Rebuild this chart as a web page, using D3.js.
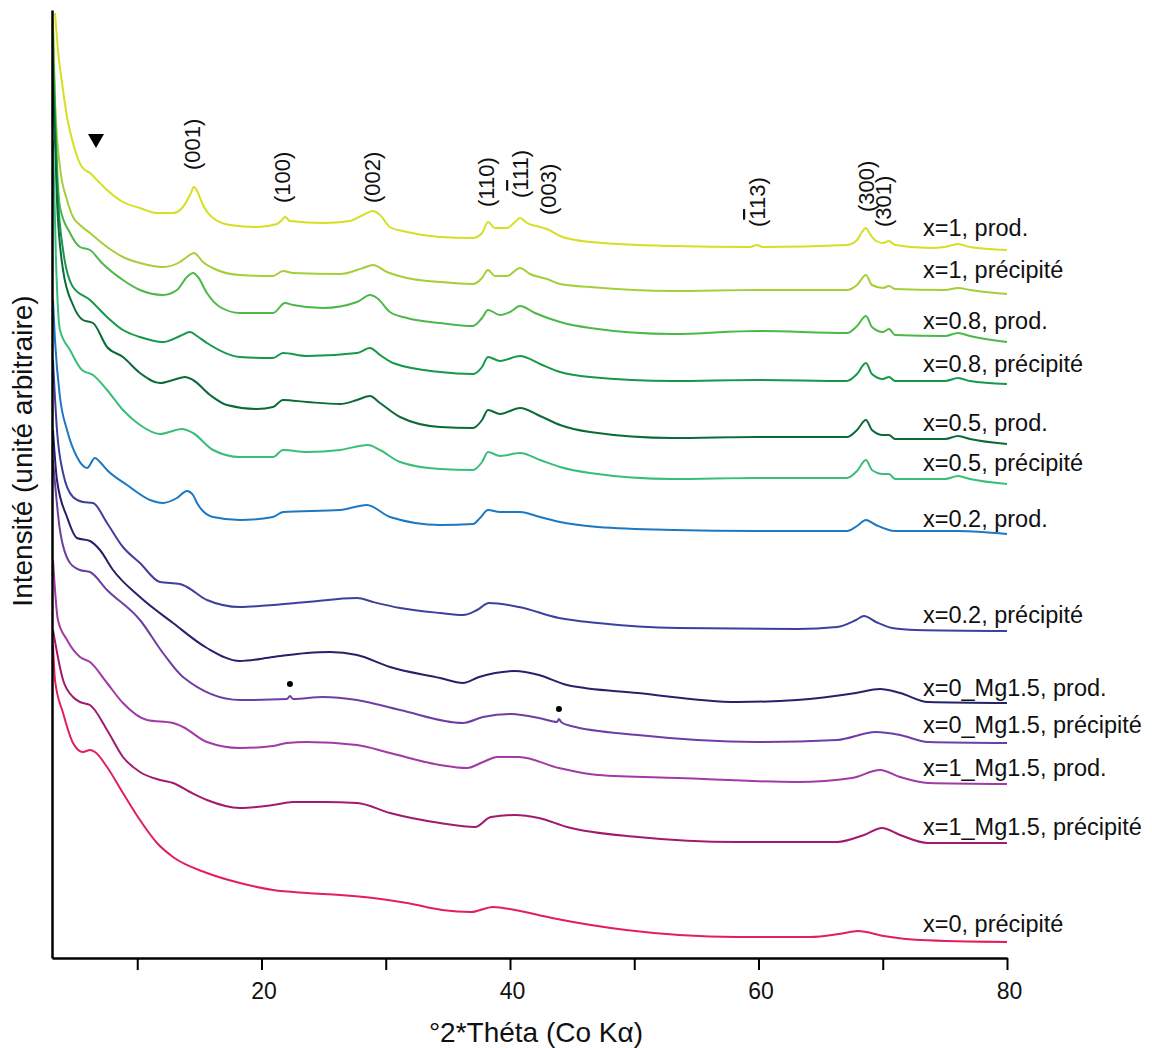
<!DOCTYPE html>
<html><head><meta charset="utf-8">
<script src="https://cdn.jsdelivr.net/npm/d3@7"></script>
<style>body{margin:0;background:#fff}svg{display:block;font-family:"Liberation Sans",Arial,sans-serif}</style>
</head><body><svg id="c" width="1152" height="1048"></svg>
<script>
// ---------------- DATA ----------------
const angleDomain = [3.14, 80];
const intensityDomain = [0, 948];

const x1_prod = [[3.38,945],[3.62,908],[3.95,875],[4.35,841],[4.83,815],[5.55,791],[6.20,785],[6.76,778],[7.57,768],[8.85,756],[10.22,750],[11.59,745],[12.88,745],[13.68,751],[14.25,763],[14.57,771],[14.89,765],[15.29,753],[16.10,740],[17.47,733],[19.64,731],[21.25,734],[21.65,738],[21.89,741],[22.29,737],[24.95,735],[27.12,737],[28.17,743],[28.97,747],[29.54,743],[30.34,731],[31.71,726],[34.37,721],[37.02,720],[37.75,725],[38.23,736],[38.79,730],[39.76,730],[40.40,736],[40.81,740],[41.37,735],[42.42,731],[42.98,729],[44.03,722],[46.44,716],[53.12,712],[59.32,711],[59.88,713],[60.36,711],[67.12,713],[67.93,718],[68.33,726],[68.65,730],[68.97,724],[69.46,717],[70.02,715],[70.50,717],[70.99,713],[73.80,710],[75.01,711],[76.06,714],[77.02,711],[80.00,708]];

const x1_prec = [[3.22,938],[3.38,858],[3.78,791],[4.35,758],[4.83,741],[5.39,733],[6.20,725],[7.57,711],[8.85,701],[10.22,695],[12.07,691],[13.44,696],[14.00,701],[14.57,705],[15.29,696],[16.42,688],[18.27,683],[20.93,682],[21.73,687],[22.54,685],[26.32,684],[28.17,690],[28.97,693],[30.10,686],[31.71,680],[34.37,676],[37.02,674],[37.75,680],[38.23,688],[38.79,682],[39.76,682],[40.81,690],[41.61,684],[42.98,679],[44.03,674],[46.44,671],[53.12,667],[59.88,668],[67.12,668],[67.93,673],[68.65,683],[69.13,673],[70.02,670],[70.50,672],[70.99,669],[75.01,668],[76.06,670],[77.02,668],[80.00,664]];

const x08_prod = [[3.22,923],[3.46,818],[3.78,751],[4.59,725],[5.39,711],[6.20,708],[7.16,695],[8.85,678],[10.22,668],[12.07,663],[13.20,668],[14.00,681],[14.49,685],[14.89,681],[15.61,665],[16.66,651],[18.27,645],[20.93,645],[21.89,655],[22.54,653],[24.95,650],[27.69,656],[28.73,663],[29.30,660],[30.34,646],[31.71,640],[34.37,635],[37.02,632],[37.75,640],[38.23,648],[39.20,643],[40.00,646],[40.81,652],[42.01,645],[44.03,636],[46.44,630],[53.12,624],[59.88,627],[67.12,625],[67.93,632],[68.65,642],[69.13,631],[70.02,626],[70.50,629],[70.99,623],[75.01,622],[76.06,625],[77.02,622],[80.00,616]];

const x08_prec = [[3.22,898],[3.54,778],[4.03,708],[4.83,671],[6.20,658],[7.57,641],[8.85,628],[10.22,621],[12.07,616],[13.44,622],[14.25,626],[14.81,622],[15.61,615],[18.27,601],[20.93,600],[21.73,605],[23.66,602],[27.69,605],[28.73,610],[29.54,603],[30.58,595],[34.37,586],[37.02,584],[37.75,591],[38.23,601],[39.20,597],[40.81,602],[42.42,594],[44.03,586],[46.44,581],[53.12,577],[59.88,578],[67.12,577],[67.93,584],[68.65,595],[69.13,584],[70.02,579],[70.50,581],[70.99,577],[75.01,577],[76.06,580],[77.02,577],[80.00,574]];

const x05_prod = [[3.22,878],[3.54,758],[4.03,688],[4.83,653],[5.63,638],[6.44,635],[7.57,611],[8.85,601],[10.22,585],[11.83,575],[12.88,578],[13.84,581],[14.49,578],[15.86,563],[17.22,553],[19.64,549],[20.93,551],[21.73,558],[23.66,556],[26.32,554],[27.69,558],[28.73,562],[29.54,555],[31.15,541],[34.37,531],[37.02,530],[37.75,538],[38.23,548],[39.20,544],[40.81,550],[42.42,542],[44.03,533],[46.44,526],[53.12,520],[59.88,521],[67.12,521],[67.93,528],[68.65,538],[69.13,528],[70.02,523],[70.50,523],[70.99,519],[75.01,519],[76.06,522],[77.02,519],[80.00,514]];

const x05_prec = [[3.22,818],[3.46,698],[3.78,628],[4.59,608],[5.55,588],[6.44,583],[7.57,568],[8.85,548],[10.22,533],[11.83,524],[13.60,529],[14.49,525],[16.10,508],[18.27,501],[20.93,501],[21.73,508],[23.66,506],[26.32,508],[28.57,513],[29.54,508],[31.15,496],[34.37,489],[37.02,488],[37.75,496],[38.23,506],[39.20,502],[40.81,505],[42.42,498],[44.03,491],[46.44,485],[53.12,479],[59.88,480],[67.12,480],[67.93,487],[68.65,498],[69.13,488],[70.02,484],[70.50,484],[70.99,479],[75.01,479],[76.06,482],[77.02,479],[80.00,474]];

const x02_prod = [[3.22,658],[3.38,618],[3.78,561],[4.35,528],[5.15,501],[5.96,490],[6.60,500],[7.00,496],[7.57,488],[9.18,473],[11.03,458],[12.07,455],[13.20,460],[14.00,467],[14.49,463],[14.81,455],[16.10,441],[18.27,438],[20.93,441],[21.73,446],[26.32,448],[28.49,453],[30.34,441],[34.37,433],[37.02,434],[37.59,440],[38.23,448],[39.20,446],[40.81,446],[42.42,441],[44.03,436],[47.08,431],[53.12,428],[59.88,427],[67.12,427],[67.93,432],[68.65,438],[69.46,433],[70.99,427],[76.06,427],[80.00,424]];

const x02_prec = [[3.22,598],[3.54,528],[4.03,485],[4.83,461],[5.63,456],[6.44,455],[7.57,435],[8.85,411],[10.22,395],[11.83,376],[13.44,374],[14.00,371],[15.61,358],[18.27,351],[20.93,353],[23.66,356],[27.69,360],[28.97,356],[31.15,350],[34.37,345],[36.22,343],[37.35,348],[38.31,355],[40.72,351],[43.94,340],[47.08,335],[53.52,330],[63.10,329],[66.32,331],[67.85,338],[68.49,342],[69.46,336],[70.75,330],[72.68,328],[80.00,327]];

const x0Mg_prod = [[3.22,528],[3.54,478],[4.35,441],[5.15,420],[6.20,417],[7.00,408],[8.05,388],[10.22,361],[12.88,335],[15.61,310],[18.27,297],[20.93,301],[23.66,305],[25.51,306],[27.69,303],[30.34,291],[34.37,280],[36.22,275],[37.51,281],[40.40,287],[42.33,283],[44.59,273],[50.30,265],[58.27,256],[63.10,258],[67.85,265],[69.78,269],[71.39,265],[73.64,256],[80.00,255]];

const x0Mg_prec = [[3.22,498],[3.78,428],[4.59,395],[5.39,388],[6.20,386],[7.57,368],[10.22,338],[12.07,305],[13.68,281],[18.27,258],[22.05,259],[22.29,262],[22.54,259],[24.95,261],[27.69,258],[31.15,248],[36.22,235],[37.83,241],[40.08,244],[42.66,239],[43.78,236],[43.94,239],[44.11,236],[44.91,232],[50.30,223],[59.88,216],[66.32,218],[69.46,226],[71.39,223],[73.64,216],[80.00,215]];

const x1Mg_prod = [[3.22,398],[3.62,338],[4.35,318],[5.39,301],[6.20,296],[7.57,275],[8.85,255],[10.79,238],[12.88,235],[13.68,231],[15.61,216],[18.27,210],[20.93,212],[22.05,215],[23.66,216],[27.69,213],[30.34,205],[34.37,193],[36.54,190],[37.83,196],[38.99,201],[40.72,201],[43.94,190],[47.08,183],[53.52,180],[63.10,176],[67.53,180],[69.78,188],[71.39,181],[73.64,175],[80.00,174]];

const x1Mg_prec = [[3.22,328],[4.03,278],[4.83,261],[5.39,256],[6.20,253],[7.57,228],[8.85,201],[10.22,186],[11.83,178],[12.88,175],[14.25,166],[15.61,158],[18.27,150],[20.93,153],[22.54,156],[24.95,156],[27.69,155],[30.34,145],[34.37,135],[37.19,131],[38.47,141],[40.40,143],[42.33,140],[44.59,131],[50.30,121],[58.27,116],[66.32,116],[68.49,123],[69.94,130],[71.39,123],[73.64,115],[80.00,115]];

const x0_prec = [[3.22,313],[3.38,278],[4.03,245],[4.83,215],[5.63,206],[6.20,208],[6.60,206],[7.57,191],[8.85,165],[10.22,138],[11.59,115],[12.88,101],[15.61,85],[18.27,75],[20.93,68],[23.66,65],[26.32,63],[28.97,60],[31.71,55],[34.53,48],[36.86,46],[38.63,51],[40.40,48],[43.38,40],[49.34,28],[58.19,21],[64.15,21],[66.48,24],[68.01,27],[70.10,22],[73.00,18],[80.00,16]];

const seriesLabels = ["x=1, prod.","x=1, précipité","x=0.8, prod.","x=0.8, précipité","x=0.5, prod.","x=0.5, précipité","x=0.2, prod.","x=0.2, précipité","x=0_Mg1.5, prod.","x=0_Mg1.5, précipité","x=1_Mg1.5, prod.","x=1_Mg1.5, précipité","x=0, précipité"];
const seriesData = [x1_prod,x1_prec,x08_prod,x08_prec,x05_prod,x05_prec,x02_prod,x02_prec,x0Mg_prod,x0Mg_prec,x1Mg_prod,x1Mg_prec,x0_prec];

const hklLabels = ["(001)","(100)","(002)","(110)","(-111)","(003)","(-113)","(300)","(301)"];
const hklAngles = [14.57,21.89,28.97,38.23,40.81,42.98,59.88,68.65,70.50];
const impurityDots = [[22.29,274],[43.94,249]];
const shoulderAngle = 6.68;

const xTickValues = [10,20,30,40,50,60,70,80];
const xTickLabels = ["","20","","40","","60","","80"];
const xTitle = "°2*Théta (Co Kα)";
const yTitle = "Intensité (unité arbitraire)";

// ---------------- LAYOUT / STYLE ----------------
const L = 52, R = 1007, T = 10, B = 958;
const colors = ["#d6df22","#a6ce39","#4cb848","#16984a","#0b6b38","#37bf78","#1c78c2","#3e3f9e","#25226a","#6d3fa3","#a03aa5","#a21a6e","#e21f5c"];
const labelShift = [-14,-16,-13,-12,-13,-13,-7,-8,-7,-10,-8,-8,-10];
const hklDx = [6,5.5,7.5,6.5,8,9,8,8,2];
const hklBottom = [170,203,203,207,198,215,227,212,227];

const svg = d3.select("#c");
const x = d3.scaleLinear().domain(angleDomain).range([L, R]);
const y = d3.scaleLinear().domain(intensityDomain).range([B, T]);

const line = d3.line().x(d => x(d[0])).y(d => y(d[1])).curve(d3.curveMonotoneX);

svg.append("g").selectAll("path").data(seriesData).join("path")
  .attr("d", line).attr("fill", "none")
  .attr("stroke", (d, i) => colors[i]).attr("stroke-width", 2)
  .attr("stroke-linejoin", "round");

// series labels
svg.append("g").selectAll("text").data(seriesData).join("text")
  .attr("x", 923)
  .attr("y", (d, i) => y(d[d.length - 1][1]) + labelShift[i])
  .attr("font-size", 23.5).attr("fill", "#111")
  .text((d, i) => seriesLabels[i]);

// hkl labels
const hg = svg.append("g");
hklLabels.forEach((lab, i) => {
  const bx = x(hklAngles[i]) + hklDx[i], by = hklBottom[i];
  const t = hg.append("text").attr("transform", `translate(${bx},${by}) rotate(-90)`)
    .attr("font-size", 22).attr("fill", "#111");
  const parts = lab.match(/-\d|[^-]/g);
  let buf = "";
  parts.forEach(p => {
    if (p[0] === "-") {
      if (buf) { t.append("tspan").text(buf); buf = ""; }
      t.append("tspan").style("text-decoration", "overline").text(p[1]);
    } else buf += p;
  });
  if (buf) t.append("tspan").text(buf);
});

// shoulder marker
const sx = x(shoulderAngle);
svg.append("path").attr("d", `M${sx-8},134L${sx+8},134L${sx},148Z`).attr("fill", "#000");

// impurity dots
svg.append("g").selectAll("circle").data(impurityDots).join("circle")
  .attr("cx", d => x(d[0])).attr("cy", d => y(d[1])).attr("r", 3).attr("fill", "#000");

// axes
const xa = svg.append("g").attr("transform", `translate(0,${B})`)
  .call(d3.axisBottom(x).tickValues(xTickValues).tickFormat((d, i) => xTickLabels[i])
    .tickSize(12).tickSizeOuter(0).tickPadding(13));
xa.select(".domain").attr("stroke", "#000").attr("stroke-width", 2.5);
xa.selectAll(".tick line").attr("stroke", "#000").attr("stroke-width", 2);
xa.selectAll(".tick text").attr("font-size", 23).attr("font-family", "Liberation Sans, Arial, sans-serif").attr("fill", "#111").attr("dx", 2);

const ya = svg.append("g").attr("transform", `translate(${L},0)`)
  .call(d3.axisLeft(y).tickValues([]).tickSizeOuter(0));
ya.select(".domain").attr("stroke", "#000").attr("stroke-width", 2.5);

svg.append("text").attr("x", 536).attr("y", 1042).attr("text-anchor", "middle")
  .attr("font-size", 28).attr("fill", "#111").text(xTitle);
svg.append("text").attr("transform", "translate(32,451) rotate(-90)").attr("text-anchor", "middle")
  .attr("font-size", 28).attr("fill", "#111").text(yTitle);
</script></body></html>
